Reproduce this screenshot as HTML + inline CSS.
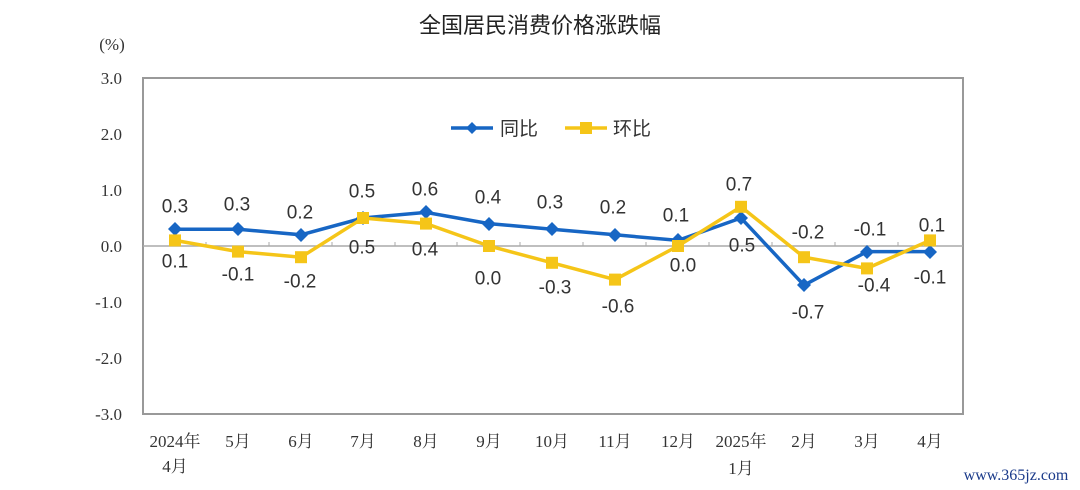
<!DOCTYPE html>
<html><head><meta charset="utf-8"><style>
body{margin:0;background:#fff}
svg{display:block}
text{font-family:"Liberation Sans","Noto Sans CJK SC",sans-serif}
.ax text{font-family:"Liberation Serif","Noto Serif CJK SC",serif;font-size:17px;fill:#333}
.ax2{font-family:"Liberation Serif","Noto Serif CJK SC",serif !important;font-size:17px;fill:#333}
.lb{font-size:19px;fill:#333;text-anchor:middle;dominant-baseline:central}
</style></head><body>
<svg width="1080" height="490" viewBox="0 0 1080 490">
<text x="540" y="33" text-anchor="middle" font-size="22" fill="#222">全国居民消费价格涨跌幅</text>
<text x="112" y="50" text-anchor="middle" class="ax2">(%)</text>
<g class="ax" text-anchor="end">
<text x="122" y="84">3.0</text><text x="122" y="140">2.0</text><text x="122" y="196">1.0</text>
<text x="122" y="252">0.0</text><text x="122" y="308">-1.0</text><text x="122" y="364">-2.0</text><text x="122" y="420">-3.0</text>
</g>
<rect x="143" y="78" width="820" height="336" fill="none" stroke="#999" stroke-width="2"/>
<line x1="143" y1="246" x2="963" y2="246" stroke="#aaa" stroke-width="1.5"/>
<g stroke="#aaa" stroke-width="1">
<line x1="206" y1="246" x2="206" y2="242"/><line x1="269" y1="246" x2="269" y2="242"/><line x1="332" y1="246" x2="332" y2="242"/><line x1="395" y1="246" x2="395" y2="242"/><line x1="457" y1="246" x2="457" y2="242"/><line x1="520" y1="246" x2="520" y2="242"/><line x1="583" y1="246" x2="583" y2="242"/><line x1="646" y1="246" x2="646" y2="242"/><line x1="709" y1="246" x2="709" y2="242"/><line x1="772" y1="246" x2="772" y2="242"/><line x1="835" y1="246" x2="835" y2="242"/><line x1="898" y1="246" x2="898" y2="242"/>
</g>
<polyline fill="none" stroke="#1766c4" stroke-width="3.5" points="175,229.2 238,229.2 301,234.8 363,218 426,212.4 489,223.6 552,229.2 615,234.8 678,240.4 741,218 804,285.2 867,251.6 930,251.6"/>
<g fill="#1766c4">
<path d="M175,222l7,7-7,7-7-7z"/><path d="M238,222l7,7-7,7-7-7z"/><path d="M301,228l7,7-7,7-7-7z"/><path d="M363,211l7,7-7,7-7-7z"/><path d="M426,205l7,7-7,7-7-7z"/><path d="M489,217l7,7-7,7-7-7z"/><path d="M552,222l7,7-7,7-7-7z"/><path d="M615,228l7,7-7,7-7-7z"/><path d="M678,233l7,7-7,7-7-7z"/><path d="M741,211l7,7-7,7-7-7z"/><path d="M804,278l7,7-7,7-7-7z"/><path d="M867,245l7,7-7,7-7-7z"/><path d="M930,245l7,7-7,7-7-7z"/>
</g>
<polyline fill="none" stroke="#f5c518" stroke-width="3.5" points="175,240.4 238,251.6 301,257.2 363,218 426,223.6 489,246 552,262.8 615,279.6 678,246 741,206.8 804,257.2 867,268.4 930,240.4"/>
<g fill="#f5c518">
<rect x="169" y="234.4" width="12" height="12"/><rect x="232" y="245.6" width="12" height="12"/><rect x="295" y="251.2" width="12" height="12"/><rect x="357" y="212" width="12" height="12"/><rect x="420" y="217.6" width="12" height="12"/><rect x="483" y="240" width="12" height="12"/><rect x="546" y="256.8" width="12" height="12"/><rect x="609" y="273.6" width="12" height="12"/><rect x="672" y="240" width="12" height="12"/><rect x="735" y="200.8" width="12" height="12"/><rect x="798" y="251.2" width="12" height="12"/><rect x="861" y="262.4" width="12" height="12"/><rect x="924" y="234.4" width="12" height="12"/>
</g>
<g class="lb">
<text x="175" y="207">0.3</text><text x="237" y="205">0.3</text><text x="300" y="213">0.2</text><text x="362" y="192">0.5</text><text x="425" y="190">0.6</text><text x="488" y="198">0.4</text><text x="550" y="203">0.3</text><text x="613" y="208">0.2</text><text x="676" y="216">0.1</text><text x="739" y="185">0.7</text><text x="808" y="233">-0.2</text><text x="870" y="230">-0.1</text><text x="932" y="226">0.1</text>
<text x="175" y="262">0.1</text><text x="238" y="275">-0.1</text><text x="300" y="282">-0.2</text><text x="362" y="248">0.5</text><text x="425" y="250">0.4</text><text x="488" y="279">0.0</text><text x="555" y="288">-0.3</text><text x="618" y="307">-0.6</text><text x="683" y="266">0.0</text><text x="742" y="246">0.5</text><text x="808" y="313">-0.7</text><text x="874" y="286">-0.4</text><text x="930" y="278">-0.1</text>
</g>
<line x1="451" y1="128" x2="493" y2="128" stroke="#1766c4" stroke-width="3.5"/><path d="M472,122l6,6-6,6-6-6z" fill="#1766c4"/>
<text x="500" y="135" font-size="19" fill="#333">同比</text>
<line x1="565" y1="128" x2="607" y2="128" stroke="#f5c518" stroke-width="3.5"/><rect x="580" y="122" width="12" height="12" fill="#f5c518"/>
<text x="613" y="135" font-size="19" fill="#333">环比</text>
<g class="ax" text-anchor="middle">
<text x="175" y="447">2024年</text><text x="175" y="472">4月</text>
<text x="238" y="447">5月</text><text x="301" y="447">6月</text><text x="363" y="447">7月</text><text x="426" y="447">8月</text><text x="489" y="447">9月</text><text x="552" y="447">10月</text><text x="615" y="447">11月</text><text x="678" y="447">12月</text>
<text x="741" y="447">2025年</text><text x="741" y="474">1月</text>
<text x="804" y="447">2月</text><text x="867" y="447">3月</text><text x="930" y="447">4月</text>
</g>
<text x="1016" y="480" text-anchor="middle" style="font-family:'Liberation Serif',serif" font-size="16" fill="#1a3a8a">www.365jz.com</text>
</svg>
</body></html>
